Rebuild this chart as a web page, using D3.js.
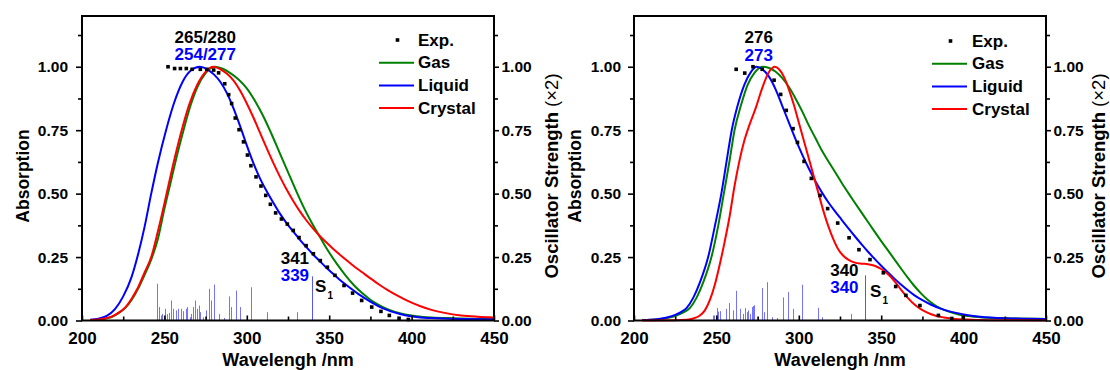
<!DOCTYPE html>
<html><head><meta charset="utf-8">
<script src="https://cdn.jsdelivr.net/npm/d3@7"></script>
<style>
body{margin:0;background:#fff;}
svg{display:block;font-family:"Liberation Sans",Arial,sans-serif;font-weight:bold;}
</style></head><body>
<svg id="chart" width="1110" height="370"></svg>
<script>
// ---------- data ----------
const wavelengthTicks = [200, 250, 300, 350, 400, 450];
const wavelengthMinorTicks = [225, 275, 325, 375, 425];
const absTicks = [0, 0.25, 0.5, 0.75, 1.0];
const absMinorTicks = [0.125, 0.375, 0.625, 0.875, 1.125];
const legendLeft = ["Exp.", "Gas", "Liquid", "Crystal"];
const legendRight = ["Exp.", "Gas", "Liguid", "Crystal"];
const xTitle = "Wavelengh /nm";
const yTitleLeft = "Absorption";
const yTitleRight = "Oscillator Strength ";
const yTitleRightSuffix = "(\u00d72)";

// left panel
const leftPeakLabels = ["265/280", "254/277"];
const leftS1Labels = ["341", "339"];
const leftExp = [[252.2,1.0],[256.2,0.993],[259.7,0.993],[263.3,0.993],[266.8,0.99],[271.8,0.99],[275.8,0.99],[279.9,0.987],[282.9,0.976],[286.6,0.933],[289,0.89],[290.8,0.855],[293,0.798],[295.3,0.752],[298,0.704],[300.4,0.652],[302.5,0.61],[305.6,0.566],[308.6,0.53],[311.5,0.493],[314.3,0.458],[317.5,0.424],[321,0.4],[324.6,0.38],[328.2,0.355],[331.7,0.327],[336,0.295],[340.4,0.263],[344.6,0.236],[348.9,0.21],[353.5,0.178],[359,0.138],[364.2,0.108],[369.7,0.079],[375.8,0.053],[381.4,0.036],[386.5,0.02],[392.4,0.009],[398,0.004]];
const leftGas = [[205,0.002],[210,0.003],[214,0.007],[218,0.014],[222,0.028],[226,0.048],[230,0.08],[234,0.125],[238,0.18],[242,0.24],[246,0.32],[250,0.44],[254,0.55],[258,0.66],[262,0.76],[266,0.85],[270,0.92],[275,0.975],[280.5,1.0],[285,0.993],[290,0.975],[295,0.95],[300,0.915],[305,0.865],[310,0.805],[315,0.735],[320,0.66],[325,0.585],[330,0.51],[335,0.44],[340,0.378],[345,0.322],[350,0.268],[355,0.22],[360,0.177],[365,0.139],[370,0.108],[375,0.082],[380,0.062],[385,0.046],[390,0.034],[396,0.024],[403,0.017],[412,0.012],[425,0.009],[450,0.006]];
const leftLiquid = [[205,0.003],[210,0.007],[215,0.018],[220,0.045],[225,0.095],[230,0.17],[234,0.26],[238,0.37],[242,0.5],[246,0.62],[251,0.75],[256,0.86],[261,0.94],[266,0.985],[271.5,1.0],[276,0.99],[280,0.97],[284,0.94],[288,0.895],[292,0.835],[296,0.765],[300,0.69],[304,0.62],[308,0.56],[312,0.51],[316,0.465],[320,0.422],[324,0.385],[328,0.352],[332,0.32],[336,0.29],[340,0.262],[344,0.236],[348,0.21],[352,0.186],[356,0.163],[360,0.142],[364,0.122],[368,0.103],[372,0.086],[376,0.07],[380,0.056],[385,0.042],[390,0.031],[396,0.021],[404,0.013],[415,0.009],[430,0.006],[450,0.005]];
const leftCrystal = [[205,0.002],[210,0.004],[214,0.008],[218,0.015],[222,0.03],[226,0.05],[230,0.085],[234,0.13],[238,0.19],[242,0.25],[246,0.35],[251,0.49],[255.5,0.62],[260.5,0.75],[265,0.85],[270,0.93],[275,0.98],[279.7,1.0],[284,0.99],[288,0.972],[292,0.945],[296,0.905],[300,0.855],[304,0.8],[308,0.74],[312,0.68],[316,0.622],[320,0.568],[324,0.518],[328,0.473],[332,0.432],[336,0.396],[340,0.364],[344,0.335],[348,0.309],[352,0.285],[356,0.262],[360,0.24],[365,0.214],[370,0.19],[375,0.166],[380,0.143],[386,0.118],[392,0.096],[398,0.076],[405,0.057],[412,0.042],[420,0.03],[430,0.02],[440,0.015],[450,0.012]];
const leftSticks = [[245.7,0.145],[246.7,0.053],[248,0.02],[248.7,0.026],[250.4,0.046],[251.4,0.025],[252.8,0.03],[254,0.079],[255.4,0.046],[256.8,0.04],[258.4,0.046],[259.8,0.046],[261.5,0.037],[263,0.046],[264,0.053],[265.4,0.013],[266.4,0.026],[267.4,0.053],[268.8,0.079],[269.8,0.046],[271,0.059],[271.8,0.033],[273.5,0.013],[275.5,0.04],[277,0.125],[278.1,0.079],[280,0.142],[283,0.026],[286.4,0.01],[289.3,0.095],[290.7,0.053],[293.4,0.118],[295.8,0.053],[302.8,0.131],[312.3,0.033],[330.2,0.033]];
const leftS1 = [[339.6,0.174]];

// right panel
const rightPeakLabels = ["276", "273"];
const rightS1Labels = ["340", "340"];
const rightExp = [[262,0.99],[267.2,0.975],[272.2,1.0],[277.8,0.99],[285,0.947],[289,0.891],[292.4,0.828],[296.5,0.756],[299.2,0.702],[303.2,0.627],[307.6,0.56],[312.9,0.493],[317.5,0.441],[323.6,0.384],[330.5,0.326],[336.5,0.279],[343.2,0.24],[351.3,0.188],[358.8,0.134],[365,0.099],[373.5,0.059],[384.7,0.02],[392.8,0.008],[399.8,0.012]];
const rightGas = [[205,0.002],[210,0.003],[215,0.005],[220,0.01],[225,0.018],[230,0.032],[234,0.05],[238,0.09],[242,0.15],[247,0.25],[251,0.37],[254.5,0.5],[258,0.63],[261,0.75],[265,0.85],[269,0.93],[273,0.975],[277.8,1.0],[282,0.995],[286,0.98],[290,0.955],[294,0.92],[298,0.875],[302,0.825],[306,0.77],[310,0.72],[314,0.67],[318,0.627],[322,0.585],[326,0.543],[330,0.503],[334,0.464],[338,0.426],[342,0.388],[346,0.35],[350,0.313],[354,0.277],[358,0.241],[362,0.205],[366,0.17],[370,0.137],[374,0.108],[378,0.083],[382,0.063],[386,0.048],[391,0.035],[397,0.024],[405,0.016],[415,0.011],[430,0.008],[450,0.006]];
const rightLiquid = [[205,0.002],[210,0.003],[215,0.006],[220,0.012],[225,0.022],[229,0.035],[232,0.05],[236,0.09],[240,0.15],[245,0.25],[249,0.37],[253,0.5],[256,0.62],[259.3,0.75],[263,0.85],[267,0.93],[271,0.98],[274.4,1.0],[278,0.99],[282,0.96],[286,0.91],[290,0.845],[294,0.78],[298,0.715],[302,0.655],[306,0.6],[310,0.55],[314,0.505],[318,0.465],[322,0.43],[326,0.397],[330,0.364],[334,0.332],[338,0.301],[342,0.271],[346,0.243],[350,0.216],[354,0.19],[358,0.165],[362,0.142],[366,0.12],[370,0.1],[375,0.08],[380,0.063],[386,0.047],[392,0.035],[400,0.024],[410,0.015],[425,0.009],[450,0.006]];
const rightCrystal = [[205,0.0],[225,0.001],[232,0.003],[236,0.008],[240,0.02],[243,0.04],[246,0.08],[249,0.14],[252,0.22],[255,0.31],[258,0.41],[261,0.53],[264,0.63],[267,0.71],[270,0.77],[274,0.84],[278,0.92],[282,0.98],[285.5,1.0],[288,0.99],[291,0.96],[294,0.91],[297,0.85],[300,0.78],[303,0.71],[306,0.64],[309,0.57],[312,0.5],[315,0.43],[318,0.37],[321,0.32],[324,0.28],[327,0.255],[330,0.24],[334,0.228],[338,0.224],[342,0.222],[346,0.216],[350,0.203],[354,0.183],[358,0.155],[362,0.122],[366,0.09],[370,0.064],[374,0.045],[378,0.031],[383,0.019],[388,0.012],[395,0.006],[405,0.003],[420,0.001],[450,0.0]];
const rightSticks = [[247.7,0.02],[248.5,0.02],[249.5,0.02],[250.2,0.049],[251.2,0.035],[252.2,0.037],[255.8,0.046],[257.8,0.069],[260.3,0.04],[261.7,0.117],[264.3,0.046],[266.3,0.026],[267.3,0.049],[268.3,0.033],[269.3,0.04],[270.3,0.026],[271.3,0.053],[272.3,0.057],[272.9,0.06],[275.3,0.013],[277.5,0.128],[279,0.033],[280.5,0.151],[283.6,0.013],[286.7,0.01],[290.2,0.091],[293.6,0.112],[296.7,0.046],[302.1,0.141],[311.8,0.05],[313.8,0.013],[331.7,0.026]];
const rightS1 = [[340.2,0.178]];

// ---------- drawing ----------
const svg = d3.select("#chart");
const COL = {exp:"#000000", gas:"#008000", liq:"#0000ff", cry:"#ff0000", stick:"#2a2aff"};
const FONT = '"Liberation Sans", Arial, sans-serif';

function drawPanel(o) {
  const x = d3.scaleLinear().domain([200, 450]).range([o.x0, o.x1]);
  const y = d3.scaleLinear().domain([0, 1.2]).range([320.5, 16]);
  const g = svg.append("g");

  // sticks
  const px = v => Math.round(x(v)) + 0.5;
  g.append("g").selectAll("line").data(o.sticks).join("line")
    .attr("x1", d => px(d[0])).attr("x2", d => px(d[0]))
    .attr("y1", y(0)).attr("y2", d => y(d[1]))
    .attr("stroke", COL.stick).attr("stroke-opacity", 0.65).attr("stroke-width", 1);
  g.append("g").selectAll("line").data(o.s1).join("line")
    .attr("x1", d => px(d[0])).attr("x2", d => px(d[0]))
    .attr("y1", y(0)).attr("y2", d => y(d[1]))
    .attr("stroke", COL.stick).attr("stroke-opacity", 0.8).attr("stroke-width", 1);

  // curves
  const line = d3.line().x(d => x(d[0])).y(d => y(d[1])).curve(d3.curveMonotoneX);
  [[o.gas, COL.gas], [o.liq, COL.liq], [o.cry, COL.cry]].forEach(([data, c]) => {
    g.append("path").datum(data).attr("d", line).attr("fill", "none")
      .attr("stroke", c).attr("stroke-width", 2);
  });

  // experimental points
  const s = 3.6;
  g.append("g").selectAll("rect").data(o.exp).join("rect")
    .attr("x", d => x(d[0]) - s/2).attr("y", d => y(d[1]) - s/2)
    .attr("width", s).attr("height", s).attr("fill", COL.exp);

  // axes
  const axStyle = sel => {
    sel.select(".domain").remove();
    sel.selectAll("text").attr("font-family", FONT).attr("font-weight", "bold").attr("fill", "#000");
    sel.selectAll("line").attr("stroke", "#000").attr("stroke-width", 1.6);
  };
  const gb = g.append("g").attr("transform", `translate(0,${y(0)})`)
    .call(d3.axisBottom(x).tickValues(wavelengthTicks).tickFormat(d3.format("d"))
      .tickSizeInner(-5).tickSizeOuter(0).tickPadding(11.5));
  axStyle(gb); gb.selectAll("text").attr("font-size", 17);
  const gbm = g.append("g").attr("transform", `translate(0,${y(0)})`)
    .call(d3.axisBottom(x).tickValues(wavelengthMinorTicks).tickFormat("").tickSizeInner(-4).tickSizeOuter(0));
  axStyle(gbm);

  const gl = g.append("g").attr("transform", `translate(${o.x0},0)`)
    .call(d3.axisLeft(y).tickValues(absTicks).tickFormat(d3.format(".2f"))
      .tickSizeInner(6).tickSizeOuter(0).tickPadding(o.leftPad));
  axStyle(gl); gl.selectAll("text").attr("font-size", 15.5);
  const glm = g.append("g").attr("transform", `translate(${o.x0},0)`)
    .call(d3.axisLeft(y).tickValues(absMinorTicks).tickFormat("").tickSizeInner(4).tickSizeOuter(0));
  axStyle(glm);

  const gr = g.append("g").attr("transform", `translate(${o.x1},0)`)
    .call(d3.axisRight(y).tickValues(absTicks).tickFormat(d3.format(".2f"))
      .tickSizeInner(5).tickSizeOuter(0).tickPadding(2.5));
  axStyle(gr); gr.selectAll("text").attr("font-size", 15.5);
  const grm = g.append("g").attr("transform", `translate(${o.x1},0)`)
    .call(d3.axisRight(y).tickValues(absMinorTicks).tickFormat("").tickSizeInner(4).tickSizeOuter(0));
  axStyle(grm);

  // frame
  g.append("rect").attr("x", o.x0).attr("y", y(1.2)).attr("width", o.x1 - o.x0)
    .attr("height", y(0) - y(1.2)).attr("fill", "none").attr("stroke", "#000").attr("stroke-width", 2);

  // axis titles
  g.append("text").attr("x", (o.x0 + o.x1) / 2).attr("y", 366).attr("text-anchor", "middle")
    .attr("font-size", 18).text(xTitle);
  g.append("text").attr("transform", `translate(${o.yTitleX},176) rotate(-90)`)
    .attr("text-anchor", "middle").attr("font-size", 17.5).text(yTitleLeft);
  const rt = g.append("text").attr("transform", `translate(${o.rTitleX},176) rotate(-90)`)
    .attr("text-anchor", "middle").attr("font-size", 18.5);
  rt.append("tspan").text(yTitleRight);
  rt.append("tspan").attr("font-weight", "normal").text(yTitleRightSuffix);

  // legend
  const L = o.legend;
  o.names.forEach((n, i) => {
    const by = L.y + i * 22.7;
    g.append("text").attr("x", L.tx).attr("y", by).attr("font-size", 17).text(n);
    if (i === 0) {
      g.append("rect").attr("x", (L.lx0 + L.lx1) / 2 - s/2 + 1).attr("y", by - 5.5 - s/2)
        .attr("width", s).attr("height", s).attr("fill", COL.exp);
    } else {
      g.append("line").attr("x1", L.lx0).attr("x2", L.lx1).attr("y1", by - 5.5).attr("y2", by - 5.5)
        .attr("stroke", [COL.gas, COL.liq, COL.cry][i - 1]).attr("stroke-width", 2);
    }
  });

  // peak annotations
  g.append("text").attr("x", x(o.peakX)).attr("y", o.peakY[0]).attr("text-anchor", "middle")
    .attr("font-size", 17).attr("fill", "#000").text(o.peakLabels[0]);
  g.append("text").attr("x", x(o.peakX)).attr("y", o.peakY[1]).attr("text-anchor", "middle")
    .attr("font-size", 17).attr("fill", COL.liq).text(o.peakLabels[1]);

  // S1 annotations
  const sx = x(o.s1[0][0]);
  g.append("text").attr("x", sx - o.s1Gap).attr("y", o.s1Y[0]).attr("text-anchor", "end")
    .attr("font-size", 17).attr("fill", "#000").text(o.s1Labels[0]);
  g.append("text").attr("x", sx - o.s1Gap).attr("y", o.s1Y[1]).attr("text-anchor", "end")
    .attr("font-size", 17).attr("fill", COL.liq).text(o.s1Labels[1]);
  const st = g.append("text").attr("x", sx + o.sOff).attr("y", o.s1Y[2]).attr("font-size", 17).attr("fill", "#000");
  st.append("tspan").text("S");
  st.append("tspan").attr("font-size", 10).attr("dy", 7).attr("dx", 1).text("1");
}

drawPanel({
  x0: 82, x1: 494, leftPad: 8, yTitleX: 29, rTitleX: 558,
  exp: leftExp, gas: leftGas, liq: leftLiquid, cry: leftCrystal,
  sticks: leftSticks, s1: leftS1, names: legendLeft,
  legend: {tx: 418, y: 45.5, lx0: 379, lx1: 414},
  peakLabels: leftPeakLabels, peakX: 274.8, peakY: [42.5, 59.5],
  s1Labels: leftS1Labels, s1Gap: 3, s1Y: [263.5, 280.5, 291.5], sOff: 3
});
drawPanel({
  x0: 634, x1: 1046, leftPad: 7, yTitleX: 581, rTitleX: 1105,
  exp: rightExp, gas: rightGas, liq: rightLiquid, cry: rightCrystal,
  sticks: rightSticks, s1: rightS1, names: legendRight,
  legend: {tx: 972, y: 46.5, lx0: 932, lx1: 967},
  peakLabels: rightPeakLabels, peakX: 275.7, peakY: [42.7, 61],
  s1Labels: rightS1Labels, s1Gap: 6.5, s1Y: [276, 293, 296.5], sOff: 5
});
</script>
</body></html>
